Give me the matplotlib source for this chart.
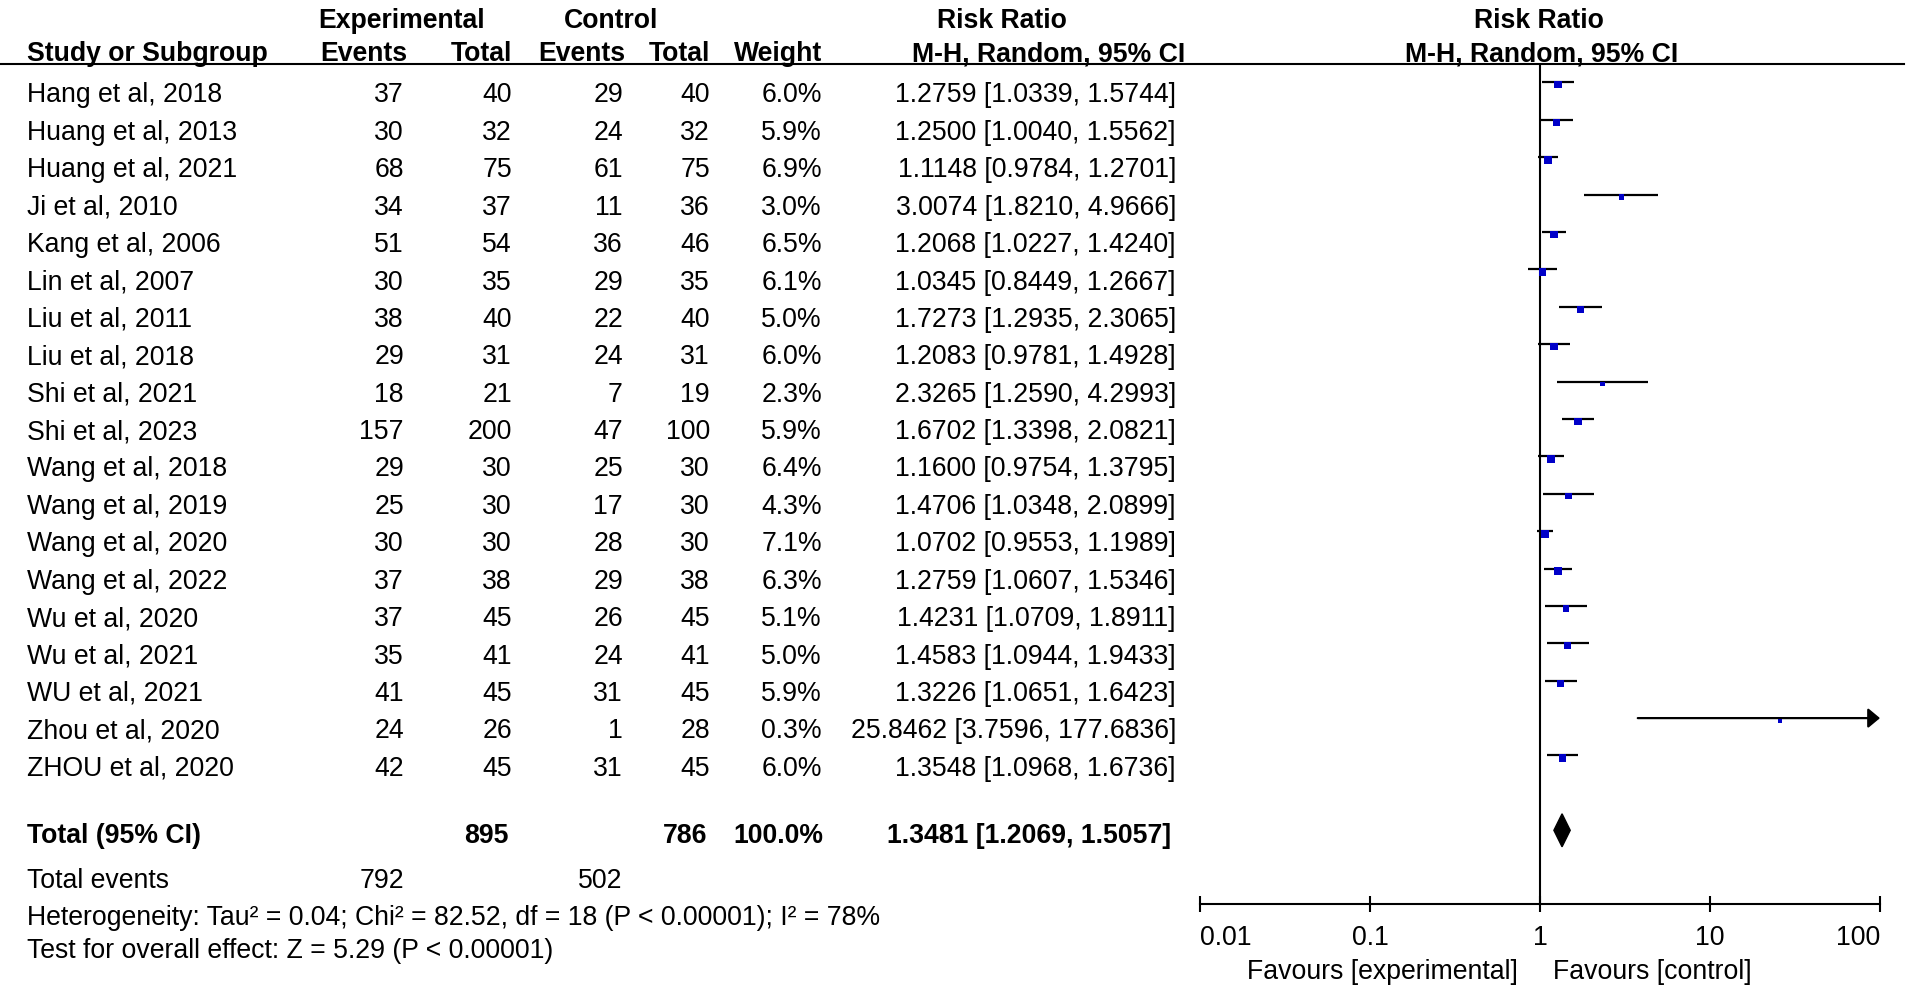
import numpy as np
import matplotlib
matplotlib.use("Agg")
import matplotlib.pyplot as plt
from matplotlib.transforms import offset_copy

# ---------------- data ----------------
studies = ["Hang et al, 2018", "Huang et al, 2013", "Huang et al, 2021", "Ji et al, 2010",
           "Kang et al, 2006", "Lin et al, 2007", "Liu et al, 2011", "Liu et al, 2018",
           "Shi et al, 2021", "Shi et al, 2023", "Wang et al, 2018", "Wang et al, 2019",
           "Wang et al, 2020", "Wang et al, 2022", "Wu et al, 2020", "Wu et al, 2021",
           "WU et al, 2021", "Zhou et al, 2020", "ZHOU et al, 2020"]
exp_events = [37, 30, 68, 34, 51, 30, 38, 29, 18, 157, 29, 25, 30, 37, 37, 35, 41, 24, 42]
exp_total = [40, 32, 75, 37, 54, 35, 40, 31, 21, 200, 30, 30, 30, 38, 45, 41, 45, 26, 45]
ctrl_events = [29, 24, 61, 11, 36, 29, 22, 24, 7, 47, 25, 17, 28, 29, 26, 24, 31, 1, 31]
ctrl_total = [40, 32, 75, 36, 46, 35, 40, 31, 19, 100, 30, 30, 30, 38, 45, 41, 45, 28, 45]
weights = [6.0, 5.9, 6.9, 3.0, 6.5, 6.1, 5.0, 6.0, 2.3, 5.9, 6.4, 4.3, 7.1, 6.3, 5.1, 5.0, 5.9, 0.3, 6.0]
rr = [1.2759, 1.2500, 1.1148, 3.0074, 1.2068, 1.0345, 1.7273, 1.2083, 2.3265, 1.6702,
      1.1600, 1.4706, 1.0702, 1.2759, 1.4231, 1.4583, 1.3226, 25.8462, 1.3548]
ci_lo = [1.0339, 1.0040, 0.9784, 1.8210, 1.0227, 0.8449, 1.2935, 0.9781, 1.2590, 1.3398,
         0.9754, 1.0348, 0.9553, 1.0607, 1.0709, 1.0944, 1.0651, 3.7596, 1.0968]
ci_hi = [1.5744, 1.5562, 1.2701, 4.9666, 1.4240, 1.2667, 2.3065, 1.4928, 4.2993, 2.0821,
         1.3795, 2.0899, 1.1989, 1.5346, 1.8911, 1.9433, 1.6423, 177.6836, 1.6736]

tot_exp_total = 895
tot_ctrl_total = 786
tot_weight = 100.0
tot_rr, tot_lo, tot_hi = 1.3481, 1.2069, 1.5057
tot_exp_events = 792
tot_ctrl_events = 502
heterogeneity = "Heterogeneity: Tau² = 0.04; Chi² = 82.52, df = 18 (P < 0.00001); I² = 78%"
overall = "Test for overall effect: Z = 5.29 (P < 0.00001)"

tick_vals = [0.01, 0.1, 1, 10, 100]
tick_labels = ["0.01", "0.1", "1", "10", "100"]

# ---------------- layout ----------------
W, H = 1908, 987
DPI = 100
FS = 19.2
FONT = "Liberation Sans"
plt.rcParams["font.family"] = [FONT, "DejaVu Sans"]

fig = plt.figure(figsize=(W / DPI, H / DPI), dpi=DPI)
fig.patch.set_facecolor("white")

# text layer in pixel coordinates
ax_t = fig.add_axes([0, 0, 1, 1])
ax_t.set_xlim(0, W)
ax_t.set_ylim(H, 0)
ax_t.axis("off")

ROW_BASE0 = 102.5   # baseline of first study row (px)
ROW_H = 37.4        # row spacing (px)

X_NAME = 27
X_EV_E = 404
X_TOT_E = 512
X_EV_C = 623
X_TOT_C = 710
X_W = 822
X_RR = 1176


def txt(x, y, s, ha="left", bold=False):
    ax_t.text(x, y, s, ha=ha, va="baseline", fontsize=FS,
              fontweight="bold" if bold else "normal", color="black")


# headers
HB1, HB2 = 28, 61
txt(402, HB1, "Experimental", ha="center", bold=True)
txt(611, HB1, "Control", ha="center", bold=True)
txt(1002, HB1, "Risk Ratio", ha="center", bold=True)
txt(1539, HB1, "Risk Ratio", ha="center", bold=True)
txt(X_NAME, HB2, "Study or Subgroup", bold=True)
txt(407, HB2, "Events", ha="right", bold=True)
txt(X_TOT_E, HB2, "Total", ha="right", bold=True)
txt(625, HB2, "Events", ha="right", bold=True)
txt(X_TOT_C, HB2, "Total", ha="right", bold=True)
txt(X_W, HB2, "Weight", ha="right", bold=True)
txt(1049, HB2, "M-H, Random, 95% CI", ha="center", bold=True)
txt(1542, HB2, "M-H, Random, 95% CI", ha="center", bold=True)
ax_t.axhline(65, 0.0, 0.998, color="black", lw=1.5)

# study rows
for i, name in enumerate(studies):
    yb = ROW_BASE0 + i * ROW_H
    txt(X_NAME, yb, name)
    txt(X_EV_E, yb, f"{exp_events[i]}", ha="right")
    txt(X_TOT_E, yb, f"{exp_total[i]}", ha="right")
    txt(X_EV_C, yb, f"{ctrl_events[i]}", ha="right")
    txt(X_TOT_C, yb, f"{ctrl_total[i]}", ha="right")
    txt(X_W, yb, f"{weights[i]:.1f}%", ha="right")
    txt(X_RR, yb, f"{rr[i]:.4f} [{ci_lo[i]:.4f}, {ci_hi[i]:.4f}]", ha="right")

# totals
YT = 843
txt(X_NAME, YT, "Total (95% CI)", bold=True)
txt(509, YT, f"{tot_exp_total}", ha="right", bold=True)
txt(707, YT, f"{tot_ctrl_total}", ha="right", bold=True)
txt(823, YT, f"{tot_weight:.1f}%", ha="right", bold=True)
txt(1171, YT, f"{tot_rr:.4f} [{tot_lo:.4f}, {tot_hi:.4f}]", ha="right", bold=True)
txt(X_NAME, 888, "Total events")
txt(X_EV_E, 888, f"{tot_exp_events}", ha="right")
txt(622, 888, f"{tot_ctrl_events}", ha="right")
txt(X_NAME, 925, heterogeneity)
txt(X_NAME, 958, overall)
txt(1518, 979, "Favours [experimental]", ha="right")
txt(1553, 979, "Favours [control]", ha="left")

# ---------------- forest plot ----------------
FX0, FX1 = 1200, 1880
FY_TOP, FY_BOT = 65, 905
LINE0 = 83.3  # y px of first CI line
ax = fig.add_axes([FX0 / W, (H - FY_BOT) / H, (FX1 - FX0) / W, (FY_BOT - FY_TOP) / H])
ax.set_xscale("log")
ax.set_xlim(tick_vals[0], tick_vals[-1])
ax.set_ylim((FY_BOT - LINE0) / ROW_H, (FY_TOP - LINE0) / ROW_H)
ax.patch.set_alpha(0)
for s in ["left", "right", "top"]:
    ax.spines[s].set_visible(False)
ax.spines["bottom"].set_linewidth(1.5)
ax.set_yticks([])
ax.set_xticks(tick_vals)
ax.set_xticklabels(tick_labels)
ax.minorticks_off()
ax.tick_params(axis="x", which="major", direction="inout", length=11.5, width=1.5,
               labelsize=FS, pad=8.5)
lbls = ax.get_xticklabels()
lbls[0].set_horizontalalignment("left")
lbls[-1].set_horizontalalignment("right")

idx = np.arange(len(studies))
hi_arr = np.array(ci_hi)
xmax = tick_vals[-1]
ax.axvline(1, color="black", lw=1.5, zorder=1)
clipped = hi_arr > xmax
ax.hlines(idx[~clipped], np.array(ci_lo)[~clipped], hi_arr[~clipped],
          color="black", lw=1.6, zorder=2)
for i in idx[clipped]:
    ax.annotate("", xy=(xmax, i), xytext=(ci_lo[i], i),
                arrowprops=dict(arrowstyle="-|>,head_length=0.48,head_width=0.4",
                                mutation_scale=15, lw=1.6, color="black",
                                shrinkA=0, shrinkB=0), annotation_clip=False, zorder=2)

side_px = np.maximum(3.0 * np.sqrt(np.array(weights)), 4.0)
side_pt = side_px * 72.0 / DPI
sq_tr = offset_copy(ax.transData, fig=fig, x=0, y=-2.5, units="dots")
ax.scatter(rr, idx, s=side_pt ** 2, marker="s", color="#0000C8", linewidths=0,
           transform=sq_tr, zorder=3, clip_on=False)

# diamond for pooled estimate
yd = len(studies) + 1
hd = 16.5 / ROW_H
ax.fill([tot_lo, tot_rr, tot_hi, tot_rr], [yd, yd - hd, yd, yd + hd],
        color="black", zorder=3, clip_on=False)

fig.savefig("out.png", dpi=DPI, facecolor="white")
